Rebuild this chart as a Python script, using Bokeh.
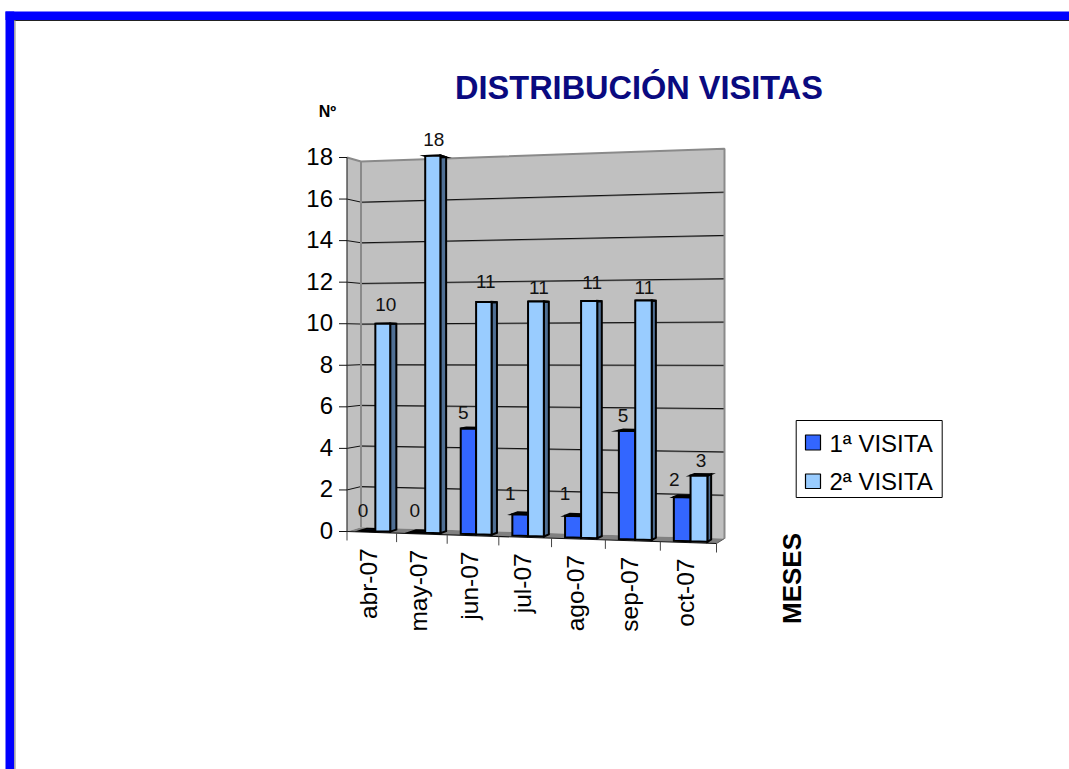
from bokeh.plotting import figure
from bokeh.core.properties import value
from bokeh.embed import file_html
from bokeh.resources import INLINE
import math

# ---- data
months = ["abr-07", "may-07", "jun-07", "jul-07", "ago-07", "sep-07", "oct-07"]
visita_1 = [0, 0, 5, 1, 1, 5, 2]
visita_2 = [10, 18, 11, 11, 11, 11, 3]
y_ticks = [0, 2, 4, 6, 8, 10, 12, 14, 16, 18]
series_names = ["1ª VISITA", "2ª VISITA"]
title = "DISTRIBUCIÓN VISITAS"
y_title = "Nº"
x_title = "MESES"

# ---- look
FONT = value("Liberation Sans")
C1, C1_SIDE, C1_TOP = "#3366ff", "#1f3d99", "#14296b"
C2, C2_SIDE, C2_TOP = "#99ccff", "#4f6f94", "#5c7a99"
WALL, FLOOR, EDGE = "#c0c0c0", "#808080", "#8a8a8a"
Y_MAX = max(y_ticks)
N = len(months)

# small label placement corrections (px), per month
nudge_1 = [(1, -4), (3, -6), (1, 0), (-4, -5), (-2, -6), (2, 1), (-2, -2)]
nudge_2 = [(0, -3), (-2, 0), (-1, -4), (0, 2), (0, -3), (-2, 3), (-1, 1)]

# ---- 3D box projection (screen corners of the chart box)
FL0, FL1 = (346.5, 531.0), (346.5, 157.0)
BL0, BL1 = (360.5, 526.7), (360.5, 161.0)
BR0, BR1 = (724.0, 538.0), (724.0, 148.3)
FR0, FR1 = (716.0, 543.0), (716.0, 144.0)
PERSP = 0.93


def lerp(a, b, t):
    return a + (b - a) * t


def proj(u, v, d):
    """category position u, value v, depth d -> page pixels"""
    t = u / N
    s = PERSP * t / ((1 - t) + PERSP * t)
    w = v / Y_MAX
    out = []
    for k in (0, 1):
        front = lerp(lerp(FL0[k], FR0[k], s), lerp(FL1[k], FR1[k], s), w)
        back = lerp(lerp(BL0[k], BR0[k], s), lerp(BL1[k], BR1[k], s), w)
        out.append(lerp(front, back, d))
    return tuple(out)


def poly(*pts):
    return [p_[0] for p_ in pts], [p_[1] for p_ in pts]


p = figure(width=1069, height=769, x_range=(0, 1069), y_range=(769, 0),
           min_border=0, toolbar_location=None, output_backend="svg",
           x_axis_type=None, y_axis_type=None, outline_line_color=None,
           background_fill_color="white", border_fill_color="white")
p.grid.visible = False
p.styles = {"position": "absolute", "left": "0px", "top": "0px"}

# page frame
p.quad(left=5, right=1069, top=11, bottom=19.5, fill_color="#0000ff", line_color=None)
p.quad(left=5, right=13.7, top=11, bottom=769, fill_color="#0000ff", line_color=None)
p.line([13.7, 1069], [20, 20], line_color="#222222", line_width=1)
p.line([14.4, 14.4], [20, 769], line_color="#999999", line_width=1.4)

# walls and floor
xs, ys = poly(proj(0, 0, 1), proj(N, 0, 1), proj(N, Y_MAX, 1), proj(0, Y_MAX, 1))
p.patch(xs, ys, fill_color=WALL, line_color=None)
xs, ys = poly(proj(0, 0, 0), proj(0, 0, 1), proj(0, Y_MAX, 1), proj(0, Y_MAX, 0))
p.patch(xs, ys, fill_color=WALL, line_color=None)
xs, ys = poly(proj(0, 0, 0), proj(N, 0, 0), proj(N, 0, 1), proj(0, 0, 1))
p.patch(xs, ys, fill_color=FLOOR, line_color=None)

# gridlines
for v in y_ticks[1:-1]:
    a, b, c = proj(0, v, 0), proj(0, v, 1), proj(N, v, 1)
    p.line([b[0], c[0]], [b[1] + 0.6, c[1] + 0.6], line_color="#777777", line_width=1)
    p.line([a[0], b[0], c[0]], [a[1], b[1], c[1]], line_color="#111111", line_width=1)

# wall edges
a, b, c, e = proj(0, Y_MAX, 0), proj(0, Y_MAX, 1), proj(N, Y_MAX, 1), proj(N, 0, 1)
p.line([a[0], b[0], c[0], e[0]], [a[1], b[1], c[1], e[1]], line_color=EDGE, line_width=2)
f = proj(0, 0, 1)
p.line([b[0], f[0]], [b[1], f[1]], line_color=EDGE, line_width=2)

# axes: value axis line, ticks and labels
g, h = proj(0, 0, 0), proj(0, Y_MAX, 0)
p.line([g[0], h[0]], [g[1], h[1]], line_color="#333333", line_width=1.2)
for v in y_ticks:
    q = proj(0, v, 0)
    p.line([q[0] - 8, q[0]], [q[1], q[1]], line_color="#111111", line_width=1)
p.text(x=[proj(0, v, 0)[0] - 14 for v in y_ticks],
       y=[proj(0, v, 0)[1] - 1 for v in y_ticks],
       text=[str(v) for v in y_ticks], text_font=FONT, text_font_size="24px",
       text_color="black", text_align="right", text_baseline="middle")

# category axis
g, h = proj(0, 0, 0), proj(N, 0, 0)
p.line([g[0], h[0]], [g[1], h[1]], line_color="#111111", line_width=1.2)
i_, j_ = proj(N, 0, 0), proj(N, 0, 1)
p.line([i_[0], j_[0]], [i_[1], j_[1]], line_color="#555555", line_width=1)
for i in range(N + 1):
    q = proj(i, 0, 0)
    p.line([q[0], q[0]], [q[1], q[1] + 9], line_color="#444444", line_width=1)
p.text(x=[proj(i + 0.5, 0, 0)[0] - 3 for i in range(N)],
       y=[proj(i + 0.5, 0, 0)[1] + 16 for i in range(N)],
       text=months, angle=math.pi / 2, text_font=FONT, text_font_size="24.5px",
       text_color="black", text_align="right", text_baseline="middle")

# bars
D0, D1 = 0.27, 0.73
SLOTS = [(0.2, 0.5), (0.5, 0.8)]
label_x, label_y, label_t = [], [], []
for i in range(N):
    for (series, colors, slot, dx, nudge) in (
        (visita_1, (C1, C1_SIDE, C1_TOP), SLOTS[0], -6, nudge_1),
        (visita_2, (C2, C2_SIDE, C2_TOP), SLOTS[1], 3, nudge_2),
    ):
        v = series[i]
        u0, u1 = i + slot[0], i + slot[1]
        side = poly(proj(u1, 0, D0), proj(u1, 0, D1), proj(u1, v, D1), proj(u1, v, D0))
        top = poly(proj(u0, v, D0), proj(u1, v, D0), proj(u1, v, D1), proj(u0, v, D1))
        front = poly(proj(u0, 0, D0), proj(u1, 0, D0), proj(u1, v, D0), proj(u0, v, D0))
        p.patches([side[0], top[0], front[0]], [side[1], top[1], front[1]],
                  fill_color=[colors[1], colors[2], colors[0]],
                  line_color="black", line_width=2, line_join="miter")
        c = proj((u0 + u1) / 2, v, D0)
        label_x.append(c[0] + dx + nudge[i][0])
        label_y.append(c[1] - 16 + nudge[i][1])
        label_t.append(str(v))
p.text(x=label_x, y=label_y, text=label_t, text_font=FONT, text_font_size="19px",
       text_color="#111111", text_align="center", text_baseline="middle")

# titles
p.text(x=[638.5], y=[87], text=[title], text_font=FONT, text_font_size="32.5px",
       text_font_style="bold", text_color="#0a0a80", text_align="center",
       text_baseline="middle")
p.text(x=[327], y=[110.5], text=[y_title], text_font=FONT, text_font_size="16px",
       text_font_style="bold", text_color="black", text_align="center",
       text_baseline="middle")
p.text(x=[791], y=[578], text=[x_title], angle=math.pi / 2, text_font=FONT,
       text_font_size="26px", text_font_style="bold", text_color="black",
       text_align="center", text_baseline="middle")

# legend
p.quad(left=795.7, right=941.7, top=420, bottom=497, fill_color="white",
       line_color="black", line_width=1)
p.quad(left=[805, 805], right=[820, 820], top=[434.5, 473.5], bottom=[449.5, 488],
       fill_color=[C1, C2], line_color="black", line_width=1.2)
p.text(x=[829, 829], y=[442.5, 481], text=series_names, text_font=FONT,
       text_font_size="24px", text_color="black", text_align="left",
       text_baseline="middle")

open("out.html", "w").write(file_html(p, INLINE))
